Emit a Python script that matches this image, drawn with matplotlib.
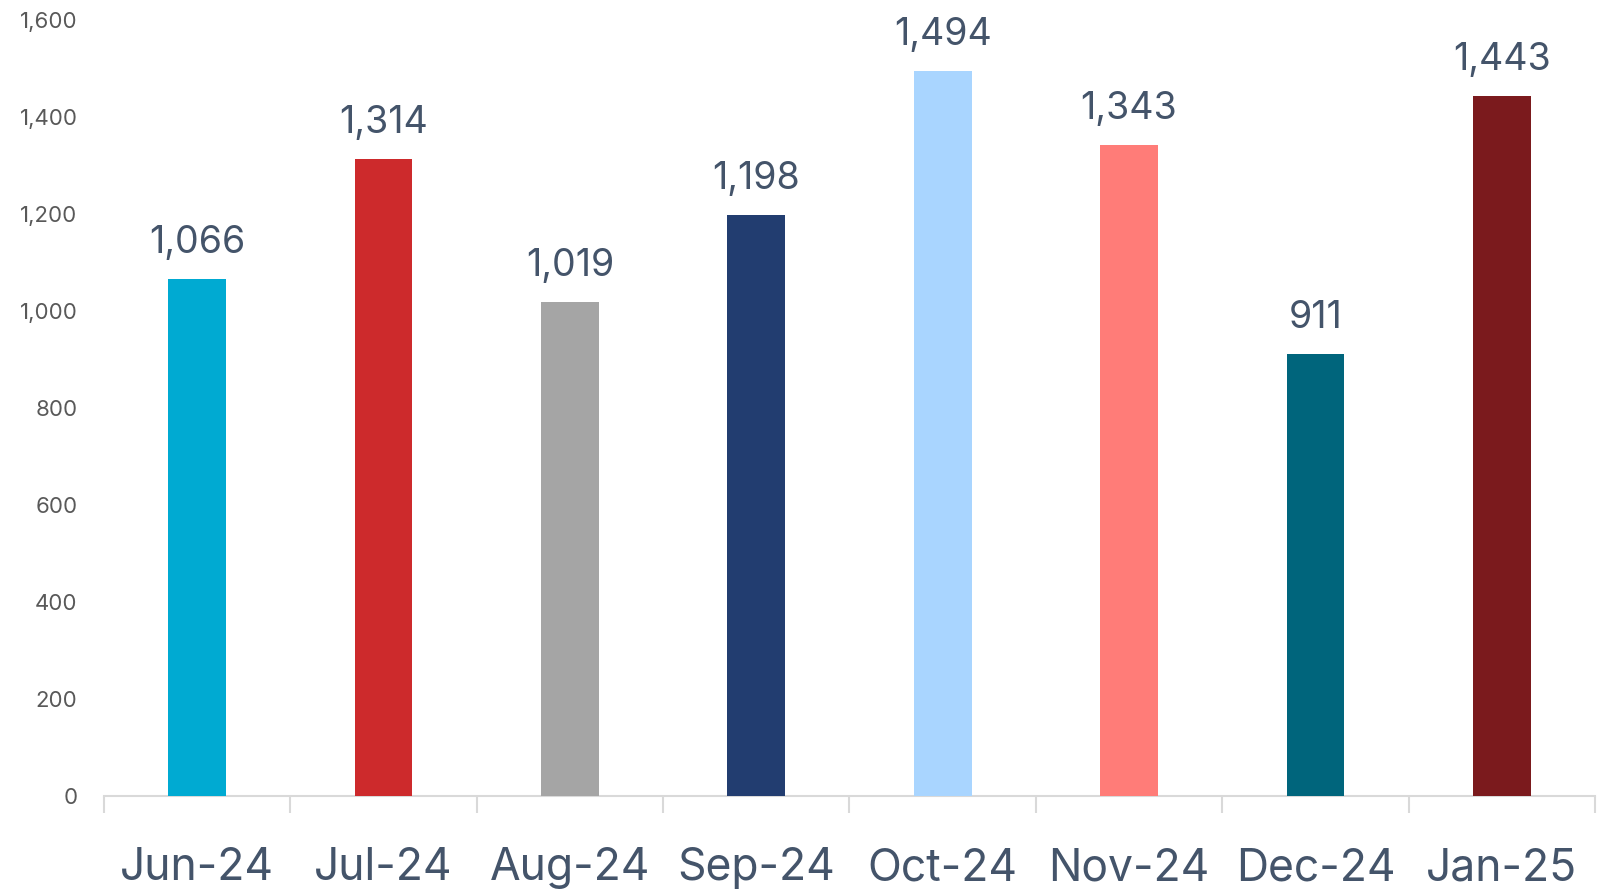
import matplotlib
matplotlib.use("Agg")
import matplotlib.pyplot as plt
import numpy as np

months = ["Jun-24", "Jul-24", "Aug-24", "Sep-24", "Oct-24", "Nov-24", "Dec-24", "Jan-25"]
values = [1066, 1314, 1019, 1198, 1494, 1343, 911, 1443]
colors = ["#00AAD2", "#CD2A2C", "#A5A5A5", "#223D70", "#A9D5FF", "#FF7C78", "#00657C", "#7B1A1D"]
yticks = [0, 200, 400, 600, 800, 1000, 1200, 1400, 1600]

plt.rcParams['font.family'] = ['Inter', 'DejaVu Sans']

fig = plt.figure(figsize=(16.04, 8.91), dpi=100)
ax = fig.add_axes([0.0648, 0.1066, 0.9296, 0.871])

x = np.arange(len(months))
bars = ax.bar(x, values, width=0.31, color=colors, zorder=3)

ax.set_xlim(-0.5, len(months) - 0.5)
ax.set_ylim(0, 1600)
ax.set_yticks(yticks)
ax.set_yticklabels([f"{v:,}" for v in yticks], fontsize=16, color="#595959")
ax.tick_params(axis='y', length=0, pad=19)

ax.set_xticks(x)
ax.set_xticklabels(months, fontsize=32, color="#44546A")
ax.tick_params(axis='x', which='major', length=0, pad=37)
ax.set_xticks(np.arange(-0.5, len(months)), minor=True)
ax.tick_params(axis='x', which='minor', length=12, width=1.5, color="#D9D9D9")

for s in ["left", "right", "top"]:
    ax.spines[s].set_visible(False)
ax.spines["bottom"].set_color("#D9D9D9")
ax.spines["bottom"].set_linewidth(1.5)

for xi, v in zip(x, values):
    ax.annotate(f"{v:,}", (xi, v), xytext=(0, 13), textcoords="offset points",
                ha="center", va="bottom", fontsize=27, color="#44546A")

fig.savefig("out.png", dpi=100)
